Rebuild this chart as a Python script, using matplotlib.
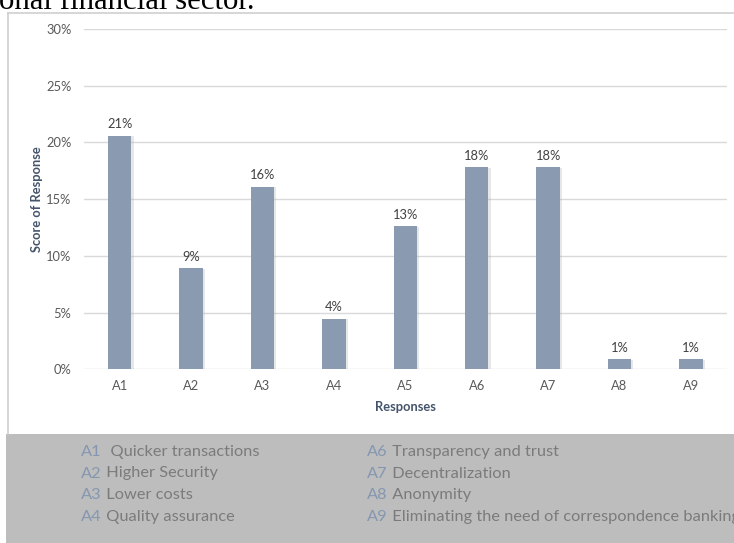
import matplotlib
matplotlib.use("Agg")
import matplotlib.pyplot as plt
from matplotlib.lines import Line2D
from matplotlib.patches import Rectangle
from matplotlib.text import Annotation
from matplotlib.ticker import FuncFormatter, MultipleLocator
import matplotlib.patheffects as pe

# ---- data ----
categories = ["A1", "A2", "A3", "A4", "A5", "A6", "A7", "A8", "A9"]
scores = [0.206, 0.089, 0.161, 0.0446, 0.126, 0.178, 0.178, 0.009, 0.009]
legend_left = [("A1", "  Quicker transactions"), ("A2", " Higher Security"),
               ("A3", " Lower costs"), ("A4", " Quality assurance")]
legend_right = [("A6", " Transparency and trust"), ("A7", " Decentralization"),
                ("A8", " Anonymity"),
                ("A9", " Eliminating the need of correspondence banking")]
caption = "onal financial sector."

W, H = 734, 543
BAR = "#8a9bb1"
TICK = "#595959"
AXLAB = "#44546a"
FONT = "Lato"
FS = 9.3

fig = plt.figure(figsize=(W / 100, H / 100), dpi=100)
fig.patch.set_facecolor("white")


def fx(px):
    return px / W


def fy(py):
    return 1 - py / H


# ---- chart area ----
ax = fig.add_axes([fx(84), fy(369.3), fx(726.6) - fx(84), fy(29) - fy(369.3)])
x = list(range(len(categories)))
bars = ax.bar(x, scores, width=0.33, color=BAR, zorder=3)
for b in bars:
    b.set_path_effects([pe.SimplePatchShadow(offset=(1.5, -0.5), shadow_rgbFace="#b0b0b0", alpha=0.3),
                        pe.Normal()])

ax.set_xlim(-0.5, len(categories) - 0.5)
ax.set_ylim(0, 0.30)
ax.yaxis.set_major_locator(MultipleLocator(0.05))
ax.yaxis.set_major_formatter(FuncFormatter(lambda v, p: f"{v:.0%}"))
ax.set_xticks(x)
ax.set_xticklabels(categories)
ax.grid(axis="y", color="#d9d9d9", linewidth=1.0, zorder=0)
ax.set_axisbelow(True)
for s in ax.spines.values():
    s.set_visible(False)
ax.tick_params(axis="both", length=0, colors=TICK, labelsize=FS)
ax.tick_params(axis="y", pad=9)
ax.tick_params(axis="x", pad=8)
for lab in ax.get_xticklabels() + ax.get_yticklabels():
    lab.set_fontfamily(FONT)

for xi, v in zip(x, scores):
    ax.annotate(f"{v:.0%}", (xi, v), xytext=(0, 4), textcoords="offset points",
                ha="center", va="bottom", fontsize=FS, color="#404040", family=FONT)

ax.set_ylabel("Score of Response", fontsize=FS, fontweight="bold", color=AXLAB, family=FONT)
ax.yaxis.set_label_coords((43 - 84) / 642.6, 0.5)
ax.set_xlabel("Responses", fontsize=FS, fontweight="bold", color=AXLAB, family=FONT)
ax.xaxis.set_label_coords(0.5, (369.3 - 401) / 340.3)

# ---- outer frame ----
frame_c = "#cfcfcf"
fig.add_artist(Line2D([fx(7.5), fx(7.5)], [fy(12.5), fy(434)], color=frame_c, lw=1.2))
fig.add_artist(Line2D([fx(7.5), 1.0], [fy(12.5), fy(12.5)], color=frame_c, lw=1.2))

# ---- caption fragment above ----
cap = fig.text(fx(-1), fy(9), caption, family="Liberation Serif", fontsize=20,
               va="baseline", ha="left", color="black")
fig.canvas.draw()
r = fig.canvas.get_renderer()
w = cap.get_window_extent(r).width
cap.set_fontsize(20 * 257 / w)

# ---- key box ----
fig.add_artist(Rectangle((fx(6), 0), 1, fy(434), transform=fig.transFigure,
                         facecolor="#bdbdbd", edgecolor="none", zorder=0))

CODE_C = "#8597b0"
DESC_C = "#7b7b7b"
rows_y = [452, 473.5, 495, 517]

# size the key text so the longest entry spans its measured width
probe = fig.text(0, 0, "A9 Eliminating the need of correspondence banking", fontsize=11, family=FONT)
fig.canvas.draw()
pw = probe.get_window_extent(r).width
probe.remove()
key_fs = 11 * 372 / pw


def key_column(entries, x0):
    for (code, desc), yy in zip(entries, rows_y):
        t = fig.text(fx(x0), fy(yy), code, fontsize=key_fs, family=FONT, color=CODE_C,
                     va="center", ha="left")
        fig.add_artist(Annotation(desc, xy=(1, 0.5), xycoords=t, va="center", ha="left",
                                  fontsize=key_fs, family=FONT, color=DESC_C))


key_column(legend_left, 81)
key_column(legend_right, 367)

fig.savefig("out.png", dpi=100)
